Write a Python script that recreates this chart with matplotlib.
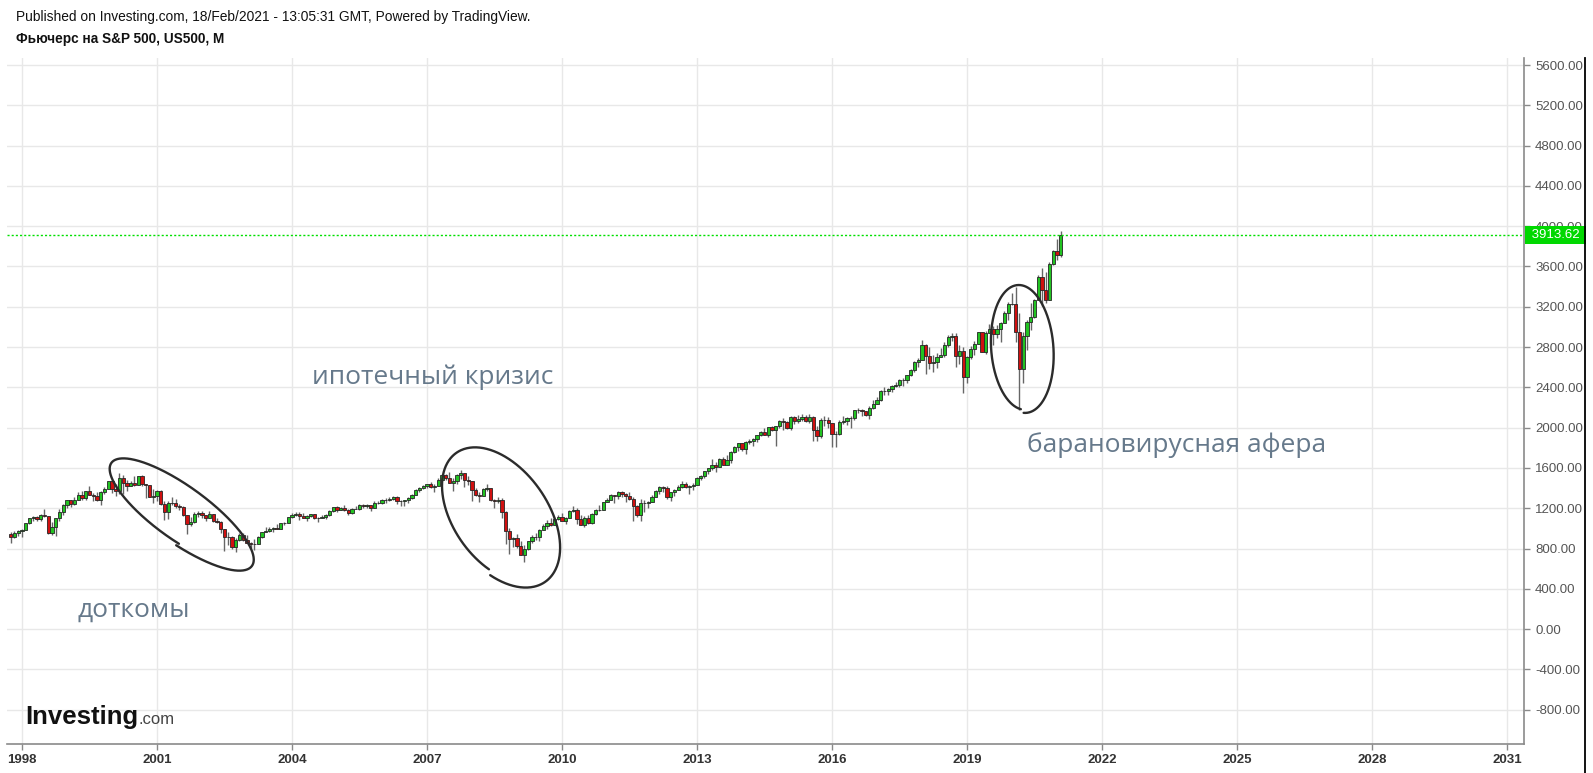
import numpy as np
import matplotlib
matplotlib.use("Agg")
import matplotlib.pyplot as plt
from matplotlib.lines import Line2D
from matplotlib.transforms import blended_transform_factory

plt.rcParams['font.family'] = ['Liberation Sans', 'DejaVu Sans']

# ---- data: monthly S&P 500 futures candles, Oct 1997 .. Feb 2021 ----
START_YEAR, START_MONTH = 1997, 10
FIRST_OPEN = 947

CLOSE = [
    915, 955, 970,                                                      # 1997
    980, 1049, 1102, 1112, 1091, 1134, 1121, 957, 1017, 1099, 1164, 1229,   # 1998
    1280, 1238, 1286, 1335, 1302, 1373, 1329, 1320, 1283, 1363, 1389, 1469, # 1999
    1394, 1366, 1499, 1452, 1421, 1455, 1431, 1518, 1437, 1429, 1315, 1320, # 2000
    1366, 1240, 1160, 1249, 1256, 1224, 1211, 1134, 1041, 1060, 1139, 1148, # 2001
    1130, 1107, 1147, 1077, 1067, 990, 912, 916, 815, 886, 936, 880,        # 2002
    856, 841, 848, 917, 964, 975, 990, 1008, 996, 1051, 1058, 1112,         # 2003
    1131, 1145, 1126, 1107, 1121, 1141, 1102, 1104, 1115, 1130, 1174, 1212, # 2004
    1181, 1204, 1181, 1157, 1192, 1191, 1234, 1220, 1229, 1207, 1249, 1248, # 2005
    1280, 1281, 1295, 1311, 1270, 1270, 1277, 1304, 1336, 1378, 1401, 1418, # 2006
    1438, 1407, 1421, 1482, 1531, 1503, 1455, 1474, 1527, 1549, 1481, 1468, # 2007
    1379, 1331, 1323, 1386, 1400, 1280, 1267, 1283, 1166, 969, 896, 903,    # 2008
    826, 735, 798, 873, 919, 919, 987, 1021, 1057, 1036, 1096, 1115,        # 2009
    1074, 1104, 1169, 1187, 1089, 1031, 1102, 1049, 1141, 1183, 1181, 1258, # 2010
    1286, 1327, 1326, 1364, 1345, 1321, 1292, 1219, 1131, 1253, 1247, 1258, # 2011
    1312, 1366, 1408, 1398, 1310, 1362, 1379, 1407, 1441, 1412, 1416, 1426, # 2012
    1498, 1515, 1569, 1598, 1631, 1606, 1686, 1633, 1682, 1757, 1806, 1848, # 2013
    1783, 1859, 1872, 1884, 1924, 1960, 1931, 2003, 1972, 2018, 2068, 2059, # 2014
    1995, 2105, 2068, 2086, 2107, 2063, 2104, 1972, 1920, 2079, 2080, 2044, # 2015
    1940, 1932, 2060, 2065, 2097, 2099, 2174, 2171, 2168, 2126, 2199, 2239, # 2016
    2279, 2364, 2363, 2384, 2412, 2423, 2470, 2472, 2519, 2575, 2648, 2674, # 2017
    2824, 2714, 2641, 2648, 2705, 2718, 2816, 2902, 2914, 2712, 2760, 2507, # 2018
    2704, 2784, 2834, 2946, 2752, 2942, 2980, 2926, 2977, 3038, 3141, 3231, # 2019
    3226, 2954, 2585, 2912, 3044, 3100, 3271, 3500, 3363, 3270, 3622, 3756, # 2020
    3714, 3913.62,                                                      # 2021
]

HIGH = [
    961, 973, 987,
    992, 1051, 1106, 1123, 1122, 1142, 1190, 1122, 1066, 1103, 1193, 1244,
    1280, 1283, 1316, 1362, 1368, 1373, 1421, 1352, 1357, 1374, 1408, 1473,
    1478, 1444, 1553, 1528, 1482, 1474, 1517, 1518, 1531, 1437, 1432, 1389,
    1383, 1376, 1267, 1269, 1316, 1287, 1239, 1226, 1134, 1110, 1164, 1173,
    1176, 1131, 1173, 1147, 1106, 1070, 994, 965, 925, 907, 951, 954,
    936, 865, 895, 924, 965, 1015, 1016, 1011, 1040, 1053, 1063, 1112,
    1155, 1159, 1163, 1150, 1128, 1146, 1141, 1109, 1132, 1142, 1184, 1217,
    1218, 1212, 1229, 1192, 1199, 1219, 1245, 1245, 1243, 1233, 1270, 1276,
    1295, 1297, 1311, 1318, 1326, 1285, 1280, 1307, 1340, 1389, 1407, 1432,
    1441, 1462, 1438, 1499, 1535, 1540, 1556, 1503, 1539, 1576, 1552, 1524,
    1471, 1396, 1359, 1397, 1440, 1404, 1293, 1313, 1304, 1168, 1008, 919,
    944, 876, 832, 878, 930, 957, 994, 1039, 1080, 1101, 1113, 1130,
    1150, 1113, 1180, 1220, 1200, 1131, 1120, 1130, 1150, 1196, 1228, 1263,
    1303, 1345, 1333, 1366, 1371, 1347, 1357, 1307, 1230, 1293, 1278, 1270,
    1333, 1378, 1420, 1422, 1416, 1364, 1392, 1426, 1475, 1465, 1434, 1448,
    1510, 1530, 1570, 1598, 1687, 1654, 1698, 1709, 1730, 1765, 1813, 1849,
    1851, 1868, 1884, 1897, 1924, 1968, 1992, 2006, 2019, 2018, 2076, 2093,
    2065, 2120, 2118, 2126, 2135, 2130, 2133, 2113, 2021, 2094, 2117, 2104,
    2045, 1963, 2073, 2112, 2103, 2120, 2178, 2194, 2188, 2169, 2214, 2278,
    2301, 2371, 2401, 2398, 2419, 2454, 2484, 2491, 2520, 2582, 2657, 2695,
    2873, 2835, 2801, 2717, 2742, 2791, 2848, 2916, 2941, 2940, 2816, 2800,
    2708, 2813, 2860, 2949, 2954, 2964, 3028, 3014, 3022, 3050, 3154, 3248,
    3338, 3397, 3136, 2954, 3068, 3233, 3280, 3514, 3588, 3550, 3646, 3760,
    3870, 3950,
]

LOW = [
    855, 904, 925,
    912, 979, 1045, 1076, 1074, 1074, 1114, 940, 939, 923, 1074, 1137,
    1205, 1211, 1234, 1282, 1282, 1281, 1327, 1268, 1269, 1233, 1343, 1387,
    1350, 1325, 1346, 1339, 1374, 1420, 1416, 1431, 1420, 1305, 1313, 1254,
    1274, 1228, 1081, 1091, 1233, 1203, 1183, 1124, 944, 1026, 1054, 1114,
    1101, 1075, 1106, 1064, 1049, 952, 775, 833, 800, 768, 872, 870,
    855, 807, 789, 847, 902, 960, 962, 960, 991, 996, 1031, 1055,
    1105, 1124, 1087, 1107, 1076, 1114, 1097, 1060, 1102, 1090, 1127, 1163,
    1164, 1180, 1177, 1137, 1147, 1188, 1184, 1201, 1206, 1176, 1202, 1246,
    1245, 1253, 1269, 1280, 1245, 1219, 1224, 1253, 1291, 1327, 1360, 1386,
    1403, 1399, 1364, 1416, 1476, 1485, 1452, 1371, 1439, 1489, 1407, 1435,
    1270, 1317, 1257, 1320, 1374, 1272, 1200, 1248, 1107, 840, 741, 815,
    805, 735, 667, 784, 858, 881, 870, 979, 991, 1020, 1029, 1086,
    1071, 1045, 1101, 1165, 1040, 1029, 1011, 1040, 1040, 1131, 1173, 1181,
    1257, 1284, 1249, 1295, 1312, 1258, 1282, 1077, 1114, 1075, 1158, 1202,
    1257, 1312, 1341, 1358, 1292, 1267, 1325, 1378, 1397, 1403, 1343, 1385,
    1426, 1485, 1501, 1536, 1581, 1560, 1605, 1627, 1633, 1646, 1747, 1768,
    1770, 1738, 1834, 1815, 1859, 1915, 1931, 1905, 1965, 1821, 2001, 1972,
    1988, 1981, 2040, 2048, 2068, 2056, 2045, 1867, 1872, 1893, 2019, 1993,
    1812, 1810, 1931, 2033, 2025, 1992, 2074, 2148, 2120, 2114, 2084, 2187,
    2238, 2267, 2322, 2329, 2353, 2405, 2407, 2417, 2446, 2510, 2557, 2605,
    2673, 2533, 2585, 2553, 2594, 2698, 2699, 2796, 2864, 2604, 2631, 2346,
    2443, 2681, 2722, 2830, 2750, 2728, 2940, 2822, 2892, 2855, 3036, 3070,
    3214, 2855, 2174, 2447, 2766, 2966, 3090, 3263, 3209, 3233, 3265, 3612,
    3662, 3694,
]

LAST_PRICE = 3913.62
YEAR_TICKS = list(range(1998, 2032, 3))
PRICE_TICKS = list(range(-800, 5601, 400))

# ---- derived series ----
close = np.array(CLOSE, dtype=float)
high = np.array(HIGH, dtype=float)
low = np.array(LOW, dtype=float)
# each monthly candle opens where the previous one closed
opn = np.r_[FIRST_OPEN, close[:-1]]
months = np.arange(len(close))
x = START_YEAR + (START_MONTH - 1 + months) / 12.0
up = close >= opn

# ---- figure ----
W, H = 1593, 773
fig = plt.figure(figsize=(W / 100, H / 100), dpi=100, facecolor='white')
L_PX, R_PX, T_PX, B_PX = 7, 1524, 58, 744
ax = fig.add_axes([L_PX / W, 1 - B_PX / H, (R_PX - L_PX) / W, (B_PX - T_PX) / H])

ax.set_xlim(1997.667, 2031.378)
ax.set_ylim(-1141, 5670)

ax.set_xticks(YEAR_TICKS)
ax.set_xticklabels([str(y) for y in YEAR_TICKS], fontweight='bold', color='#333333')
ax.set_yticks(PRICE_TICKS)
ax.set_yticklabels([f"{v:.2f}" for v in PRICE_TICKS], color='#555555')
ax.yaxis.tick_right()
ax.tick_params(axis='both', labelsize=9.5, length=4, width=1, color='#8a8a8a', pad=3)
ax.tick_params(axis='y', pad=4)

for s in ['top', 'left']:
    ax.spines[s].set_visible(False)
for s in ['right', 'bottom']:
    ax.spines[s].set_color('#8a8a8a')
    ax.spines[s].set_linewidth(1.2)

ax.grid(True, color='#e8e8e8', linewidth=1)
ax.set_axisbelow(True)

# candles
ax.vlines(x, low, high, color='#666666', linewidth=1, zorder=2)
ax.bar(x, close - opn, bottom=opn, width=0.068,
       color=np.where(up, '#22c322', '#d01010'),
       edgecolor='#262626', linewidth=0.6, zorder=3)

# last price line + label (covers part of the 4000 tick label, as on the site)
ax.axhline(LAST_PRICE, color='#00e000', linewidth=1, linestyle=(0, (1.5, 1.5)), zorder=4)
trans = blended_transform_factory(ax.transAxes, ax.transData)
ax.text(1.0026, LAST_PRICE, f" {LAST_PRICE:.2f} ", transform=trans, ha='left', va='center',
        color='white', fontsize=9.5, clip_on=False, zorder=10,
        bbox=dict(boxstyle='square,pad=0.24', facecolor='#00d800', edgecolor='none'))


# hand-drawn loops around the three crashes
def hand_loop(cx, cy, a, b, angle, t0, t1, s0, s1):
    t = np.radians(np.linspace(t0, t1, 400))
    s = np.linspace(s0, s1, 400)
    th = np.radians(angle)
    c = ax.transData.transform((cx, cy))
    px = c[0] + s * (a * np.cos(t) * np.cos(th) - b * np.sin(t) * np.sin(th))
    py = c[1] + s * (a * np.cos(t) * np.sin(th) + b * np.sin(t) * np.cos(th))
    pts = ax.transData.inverted().transform(np.column_stack([px, py]))
    ax.plot(pts[:, 0], pts[:, 1], color='#2b2b2b', linewidth=1.7,
            solid_capstyle='round', zorder=6)


hand_loop(2001.51, 1151, 86, 27, -36, -80, 282, 1.06, 0.96)
hand_loop(2008.62, 1122, 77, 47, -55, -58, 300, 1.05, 0.97)
hand_loop(2020.22, 2789, 63, 31, 94, 175, 530, 1.03, 0.98)

# annotation texts
note_kw = dict(fontsize=19, color='#66798b', family=['Open Sans', 'DejaVu Sans'],
               va='baseline', ha='left', zorder=7)
ax.text(2004.44, 2432, "ипотечный кризис", **note_kw)
ax.text(1999.24, 119, "доткомы", **note_kw)
ax.text(2020.33, 1757, "барановирусная афера", **note_kw)

# header
fig.text(16 / W, 1 - 17 / H,
         "Published on Investing.com, 18/Feb/2021 - 13:05:31 GMT, Powered by TradingView.",
         fontsize=9.9, color='#111111', va='center', ha='left')
fig.text(16 / W, 1 - 39 / H, "Фьючерс на S&P 500, US500, M",
         fontsize=9.8, fontweight='bold', color='#111111', va='center', ha='left')

# logo
logo = fig.text(25 / W, 1 - 724 / H, "Investing", fontsize=18.5, fontweight='bold',
                color='#111111', va='baseline', ha='left')
fig.canvas.draw()
bb = logo.get_window_extent()
fig.text(bb.x1 / W, 1 - 724 / H, ".com", fontsize=12, color='#444444',
         va='baseline', ha='left')

# right border line
fig.add_artist(Line2D([1585 / W, 1585 / W], [0, 1 - T_PX / H], transform=fig.transFigure,
                      color='black', linewidth=1.3))

fig.savefig('out.png', dpi=100, facecolor='white')
